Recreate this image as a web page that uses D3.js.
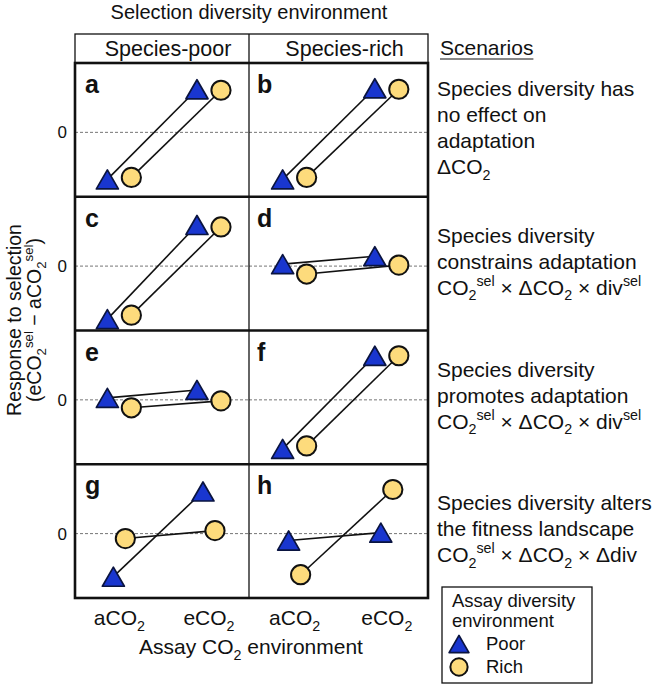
<!DOCTYPE html>
<html>
<head>
<meta charset="utf-8">
<script src="https://cdn.jsdelivr.net/npm/d3@7"></script>
<style>
  body { margin: 0; background: #fff; }
  text { font-family: "Liberation Sans", Arial, Helvetica, sans-serif; fill: #111; }
</style>
</head>
<body>
<svg width="657" height="685"></svg>
<script>
// values (units relative to the dashed zero line)
var panelLetters = ["a", "b", "c", "d", "e", "f", "g", "h"];
var selectionEnv = ["Species-poor", "Species-rich"];
var assayCO2 = ["aCO2", "eCO2"];
var assayLabels = ["aCO_{2}", "eCO_{2}"];
var assayDiv = ["Poor", "Rich"];
// [aCO2, eCO2] for each panel
var poorValues = [[-0.95, 0.87], [-0.95, 0.89], [-1.07, 0.83], [0.04, 0.2],
                  [0.04, 0.2], [-0.99, 0.89], [-0.87, 0.85], [-0.14, 0.02]];
var richValues = [[-0.91, 0.85], [-0.91, 0.87], [-0.99, 0.79], [-0.16, 0.02],
                  [-0.16, -0.02], [-0.93, 0.89], [-0.1, 0.06], [-0.83, 0.89]];
var scenarioLines = [
    ["Species diversity has", "no effect on", "adaptation", "\u0394CO_{2}"],
    ["Species diversity", "constrains adaptation", "CO_{2}^{sel} \u00d7 \u0394CO_{2} \u00d7 div^{sel}"],
    ["Species diversity", "promotes adaptation", "CO_{2}^{sel} \u00d7 \u0394CO_{2} \u00d7 div^{sel}"],
    ["Species diversity alters", "the fitness landscape", "CO_{2}^{sel} \u00d7 \u0394CO_{2} \u00d7 \u0394div"]
];

var svg = d3.select("svg");
var gridLeft = 75, gridMid = 249, gridRight = 428, headTop = 34, gridTop = 63, gridBottom = 598;
var colX = [gridLeft, gridMid, gridRight];
var dodge = [12, 12, 12, 6]; // sideways offset of the two markers, per row
var blue = "#1936cf", yellow = "#fddb7c";

var row = d3.scaleBand().domain(d3.range(4)).range([gridTop, gridBottom]);
var rowH = row.bandwidth();
var y = d3.scaleLinear().domain([-1.3, 1.4]).range([rowH, 0]);

// sub/superscript helper: _{..} and ^{..}
function rich(text, str, fs) {
    var off = 0;
    str.split(/(_\{[^}]*\}|\^\{[^}]*\})/).filter(function (s) { return s; }).forEach(function (t) {
        var shift = 0, size = fs, txt = t;
        if (t.indexOf("_{") === 0) { shift = 0.27 * fs; size = 0.68 * fs; txt = t.slice(2, -1); }
        else if (t.indexOf("^{") === 0) { shift = -0.42 * fs; size = 0.68 * fs; txt = t.slice(2, -1); }
        text.append("tspan").attr("dy", shift - off).attr("font-size", size).text(txt);
        off = shift;
    });
}

function triangle(s) {
    var h = s * Math.sqrt(3) / 2;
    return "M0," + (-h / 2) + "L" + (s / 2) + "," + (h / 2) + "L" + (-s / 2) + "," + (h / 2) + "Z";
}

function drawMarker(g, kind, scale) {
    scale = scale || 1;
    if (kind === "Poor") {
        g.append("path").attr("d", triangle(22 * scale)).attr("fill", blue)
            .attr("stroke", "#0a1440").attr("stroke-width", 1.7).attr("stroke-linejoin", "round");
    } else {
        g.append("circle").attr("r", 9.6 * scale).attr("fill", yellow)
            .attr("stroke", "#111").attr("stroke-width", 2);
    }
}

// title
svg.append("text").attr("x", gridMid).attr("y", 19).attr("text-anchor", "middle")
    .attr("font-size", 20).text("Selection diversity environment");

// header row
svg.append("rect").attr("x", gridLeft).attr("y", headTop).attr("width", gridRight - gridLeft).attr("height", gridTop - headTop)
    .attr("fill", "none").attr("stroke", "#111").attr("stroke-width", 1.3);
svg.append("line").attr("x1", gridMid).attr("x2", gridMid).attr("y1", headTop).attr("y2", gridTop)
    .attr("stroke", "#111").attr("stroke-width", 1.3);
svg.selectAll(".head").data(selectionEnv).enter().append("text")
    .attr("class", "head")
    .attr("x", function (d, i) { return (colX[i] + colX[i + 1]) / 2 + 6; })
    .attr("y", 56).attr("text-anchor", "middle").attr("font-size", 21.5)
    .text(function (d) { return d; });

// panels
var panels = panelLetters.map(function (k, i) {
    return { key: k, row: Math.floor(i / 2), col: i % 2, values: [poorValues[i], richValues[i]] };
});

var pg = svg.selectAll(".panel").data(panels).enter().append("g")
    .attr("class", "panel")
    .attr("transform", function (d) { return "translate(" + colX[d.col] + "," + row(d.row) + ")"; });

pg.each(function (d) {
    var g = d3.select(this);
    var w = colX[d.col + 1] - colX[d.col];
    var x = d3.scalePoint().domain(assayCO2).range([0.255 * w, 0.77 * w]);
    var off = dodge[d.row];

    g.append("line").attr("x1", 0).attr("x2", w).attr("y1", y(0)).attr("y2", y(0))
        .attr("stroke", "#666").attr("stroke-width", 0.9).attr("stroke-dasharray", "3,2");

    g.append("text").attr("x", d.col === 0 ? 10 : 8).attr("y", 30)
        .attr("font-size", 25).attr("font-weight", "bold").text(d.key);

    var series = assayDiv.map(function (name, si) {
        var dx = si === 0 ? -off : off;
        return {
            name: name,
            pts: assayCO2.map(function (c, j) { return { x: x(c) + dx, y: y(d.values[si][j]) }; })
        };
    });

    var line = d3.line().x(function (p) { return p.x; }).y(function (p) { return p.y; });
    g.selectAll(".conn").data(series).enter().append("path")
        .attr("class", "conn").attr("d", function (s) { return line(s.pts); })
        .attr("fill", "none").attr("stroke", "#111").attr("stroke-width", 1.6);

    series.slice().reverse().forEach(function (s) {
        s.pts.forEach(function (p) {
            drawMarker(g.append("g").attr("transform", "translate(" + p.x + "," + p.y + ")"), s.name);
        });
    });
});

// grid borders
svg.append("line").attr("x1", gridMid).attr("x2", gridMid).attr("y1", gridTop).attr("y2", gridBottom)
    .attr("stroke", "#111").attr("stroke-width", 1.3);
svg.selectAll(".sep").data([1, 2, 3]).enter().append("line")
    .attr("x1", gridLeft).attr("x2", gridRight)
    .attr("y1", function (r) { return row(r); }).attr("y2", function (r) { return row(r); })
    .attr("stroke", "#111").attr("stroke-width", 2.6);
svg.append("rect").attr("x", gridLeft).attr("y", gridTop).attr("width", gridRight - gridLeft).attr("height", gridBottom - gridTop)
    .attr("fill", "none").attr("stroke", "#111").attr("stroke-width", 2.6);

// zero ticks
svg.selectAll(".zero").data(d3.range(4)).enter().append("text")
    .attr("x", 67).attr("y", function (r) { return row(r) + y(0); })
    .attr("dy", "0.36em").attr("text-anchor", "end").attr("font-size", 17).text("0");

// x labels
selectionEnv.forEach(function (s, ci) {
    var w = colX[ci + 1] - colX[ci];
    var x = d3.scalePoint().domain(assayCO2).range([0.255 * w, 0.77 * w]);
    assayCO2.forEach(function (c, j) {
        var t = svg.append("text").attr("x", colX[ci] + x(c)).attr("y", 625)
            .attr("text-anchor", "middle").attr("font-size", 21);
        rich(t, assayLabels[j], 21);
    });
});
rich(svg.append("text").attr("x", 251).attr("y", 654).attr("text-anchor", "middle").attr("font-size", 21),
    "Assay CO_{2} environment", 21);

// y label
svg.append("text").attr("transform", "translate(21,320) rotate(-90)").attr("text-anchor", "middle")
    .attr("font-size", 19.5).text("Response to selection");
rich(svg.append("text").attr("transform", "translate(41,320) rotate(-90)").attr("text-anchor", "middle")
    .attr("font-size", 19.5), "(eCO_{2}^{sel} \u2212 aCO_{2}^{sel})", 19.5);

// scenarios column
var sc = svg.append("text").attr("x", 440).attr("y", 55).attr("font-size", 21).text("Scenarios");
var scw = sc.node().getComputedTextLength();
svg.append("line").attr("x1", 440).attr("x2", 440 + scw).attr("y1", 59).attr("y2", 59)
    .attr("stroke", "#111").attr("stroke-width", 1.2);

scenarioLines.forEach(function (lines, r) {
    var c = row(r) + 72;
    lines.forEach(function (l, i) {
        var t = svg.append("text").attr("x", 437).attr("y", c + (i - (lines.length - 1) / 2) * 26)
            .attr("font-size", 21);
        rich(t, l, 21);
    });
});

// legend
var lg = svg.append("g");
lg.append("rect").attr("x", 442).attr("y", 587).attr("width", 150).attr("height", 96)
    .attr("fill", "#fff").attr("stroke", "#111").attr("stroke-width", 1.3);
lg.selectAll(".lt").data(["Assay diversity", "environment"]).enter().append("text")
    .attr("x", 452).attr("y", function (d, i) { return 607 + i * 20; })
    .attr("font-size", 18.5).text(function (d) { return d; });
assayDiv.forEach(function (name, i) {
    drawMarker(lg.append("g").attr("transform", "translate(459," + (644 + i * 23) + ")"), name, 0.9);
    lg.append("text").attr("x", 486).attr("y", 650 + i * 23).attr("font-size", 18.5).text(name);
});
</script>
</body>
</html>
